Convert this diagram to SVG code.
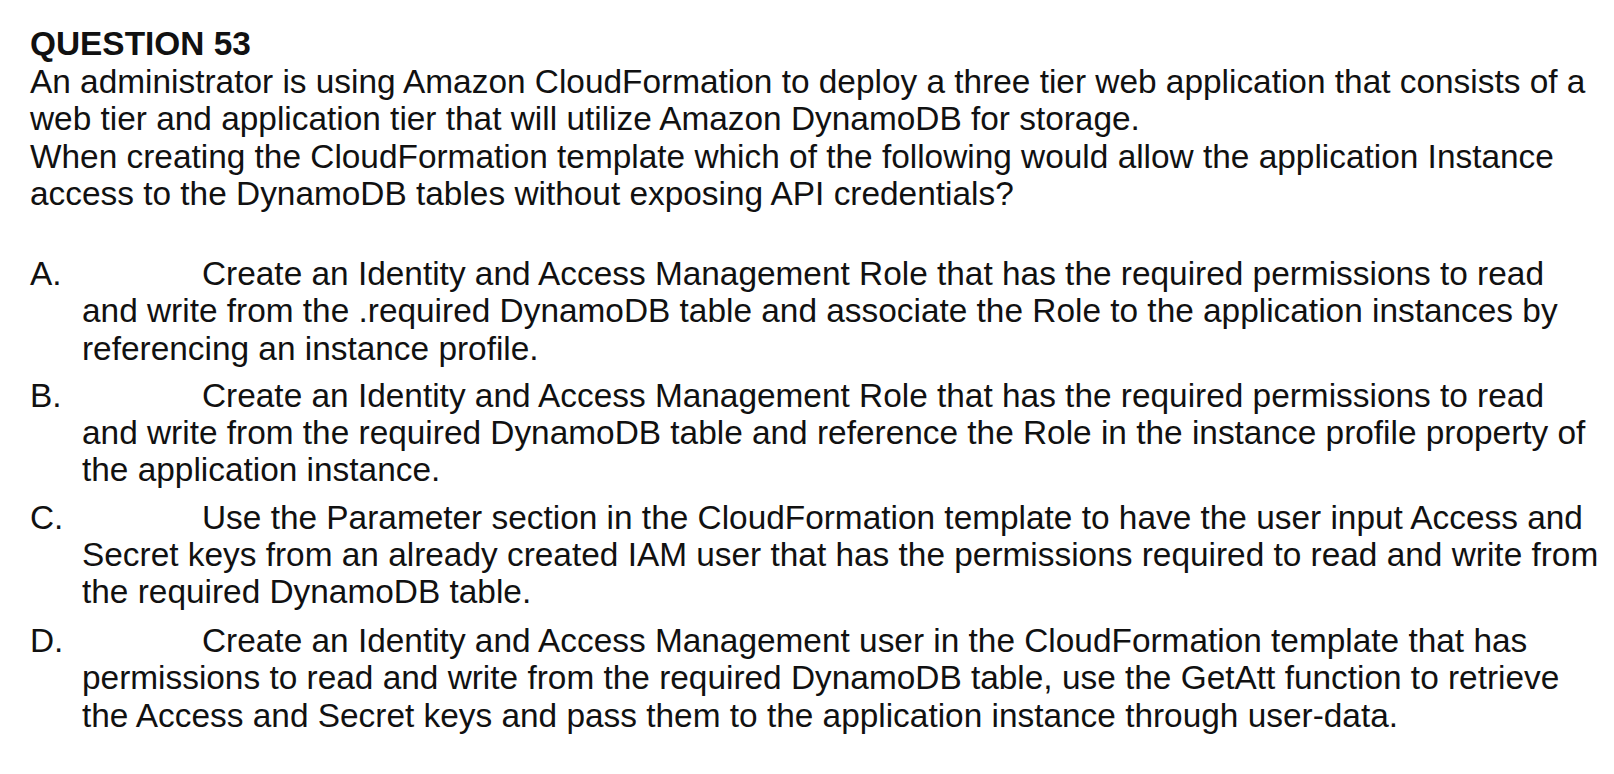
<svg xmlns="http://www.w3.org/2000/svg" width="1614" height="774" viewBox="0 0 1614 774">
<style>
.t{font-family:"Liberation Sans",Arial,sans-serif;font-size:33.4px;fill:#111}
.h{font-weight:bold}
</style>
<rect width="1614" height="774" fill="#fff"/>
<g id="question">
<text class="t h" x="30" y="55">QUESTION 53</text>
<text class="t" x="30" y="92.5">An administrator is using Amazon CloudFormation to deploy a three tier web application that consists of a</text>
<text class="t" x="30" y="130">web tier and application tier that will utilize Amazon DynamoDB for storage.</text>
<text class="t" x="30" y="167.5">When creating the CloudFormation template which of the following would allow the application Instance</text>
<text class="t" x="30" y="204.5">access to the DynamoDB tables without exposing API credentials?</text>
</g>
<g id="option-a">
<text class="t" x="30" y="285">A.</text>
<text class="t" x="202" y="285">Create an Identity and Access Management Role that has the required permissions to read</text>
<text class="t" x="82" y="322.3">and write from the .required DynamoDB table and associate the Role to the application instances by</text>
<text class="t" x="82" y="359.7">referencing an instance profile.</text>
</g>
<g id="option-b">
<text class="t" x="30" y="406.5">B.</text>
<text class="t" x="202" y="406.5">Create an Identity and Access Management Role that has the required permissions to read</text>
<text class="t" x="82" y="443.8">and write from the required DynamoDB table and reference the Role in the instance profile property of</text>
<text class="t" x="82" y="481">the application instance.</text>
</g>
<g id="option-c">
<text class="t" x="30" y="528.7">C.</text>
<text class="t" x="202" y="528.7">Use the Parameter section in the CloudFormation template to have the user input Access and</text>
<text class="t" x="82" y="566">Secret keys from an already created IAM user that has the permissions required to read and write from</text>
<text class="t" x="82" y="603.3">the required DynamoDB table.</text>
</g>
<g id="option-d">
<text class="t" x="30" y="652">D.</text>
<text class="t" x="202" y="652">Create an Identity and Access Management user in the CloudFormation template that has</text>
<text class="t" x="82" y="689.3">permissions to read and write from the required DynamoDB table, use the GetAtt function to retrieve</text>
<text class="t" x="82" y="726.6">the Access and Secret keys and pass them to the application instance through user-data.</text>
</g>
</svg>
